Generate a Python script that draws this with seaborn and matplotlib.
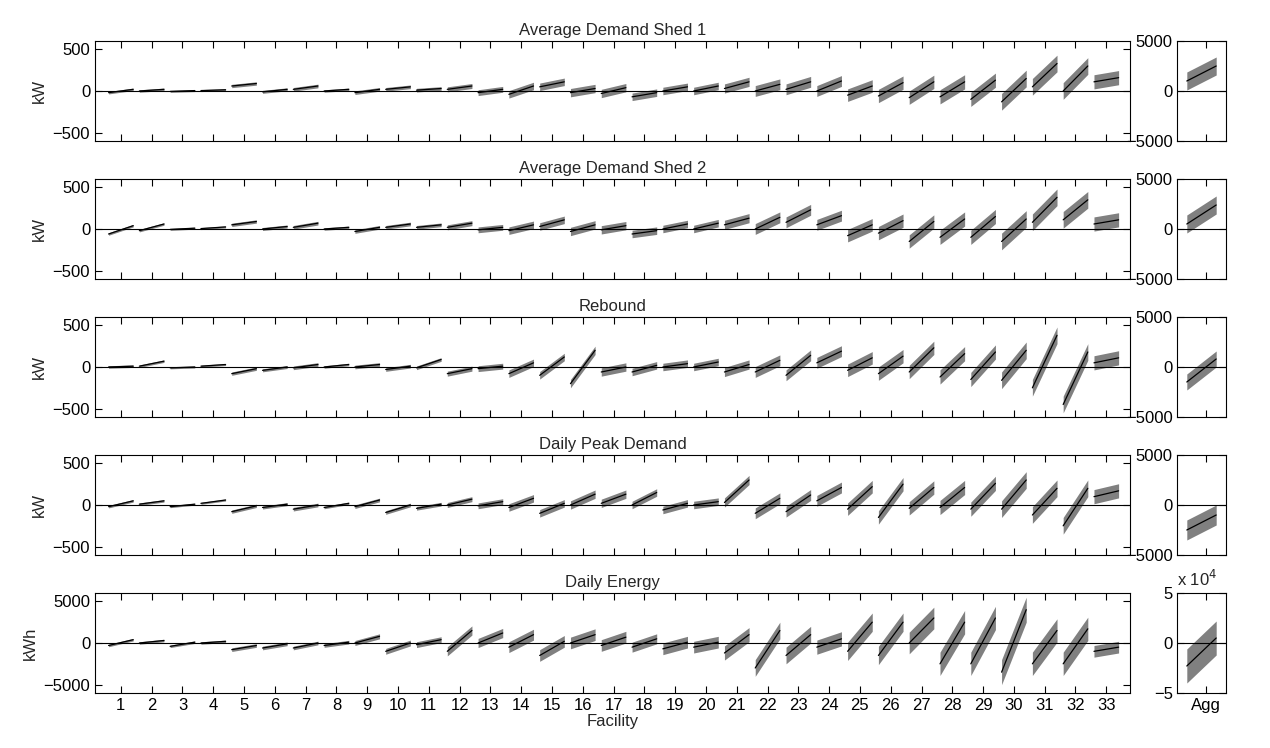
import numpy as np
import pandas as pd
import matplotlib
matplotlib.use("Agg")
import matplotlib.pyplot as plt
import seaborn as sns

facilities = list(range(1, 34))
titles = ["Average Demand Shed 1", "Average Demand Shed 2", "Rebound",
          "Daily Peak Demand", "Daily Energy"]
units = ["kW", "kW", "kW", "kW", "kWh"]

# per facility: (low end, high end) of the sorted daily estimates
shed1 = [(-20, 20), (0, 20), (-5, 5), (5, 15), (60, 90), (-10, 20), (20, 60), (0, 20), (-20, 20),
         (20, 50), (10, 30), (20, 60), (-20, 20), (-40, 60), (50, 110), (-20, 30), (-30, 40),
         (-70, -20), (0, 50), (0, 60), (30, 110), (0, 80), (20, 110), (0, 120), (-50, 60),
         (-60, 100), (-80, 110), (-70, 110), (-100, 130), (-130, 150), (50, 330), (0, 300), (110, 160)]
shed2 = [(-60, 40), (-20, 60), (-5, 10), (5, 25), (50, 90), (0, 30), (20, 70), (0, 20), (-30, 20),
         (20, 60), (20, 50), (20, 70), (-10, 20), (-20, 50), (30, 110), (-30, 50), (-10, 40),
         (-60, -20), (0, 60), (0, 70), (50, 130), (0, 140), (80, 230), (50, 160), (-80, 50),
         (-50, 100), (-150, 90), (-100, 120), (-100, 150), (-150, 120), (80, 380), (110, 350), (60, 110)]
rebound = [(0, 10), (10, 70), (-10, 0), (10, 30), (-80, -20), (-40, 0), (-10, 30), (0, 30), (0, 30),
           (-30, 10), (-10, 90), (-80, -20), (-20, 10), (-80, 50), (-100, 120), (-200, 200), (-60, 0),
           (-60, 20), (0, 40), (0, 60), (-60, 30), (-60, 80), (-100, 140), (50, 190), (-40, 110),
           (-80, 130), (-60, 230), (-120, 160), (-150, 180), (-160, 200), (-250, 380), (-450, 180), (50, 110)]
peak = [(-20, 50), (10, 50), (-20, 10), (20, 60), (-80, -10), (-30, 10), (-50, 0), (-30, 20), (-20, 60),
        (-90, 0), (-40, 10), (0, 70), (-10, 40), (-30, 80), (-100, 20), (0, 130), (20, 130), (0, 150),
        (-60, 20), (0, 40), (30, 300), (-100, 80), (-80, 120), (50, 210), (-50, 220), (-150, 250),
        (-40, 210), (-30, 210), (-50, 260), (-50, 300), (-120, 200), (-250, 200), (100, 170)]
energy = [(-300, 400), (0, 300), (-400, 100), (0, 200), (-800, -300), (-600, -100), (-600, 0),
          (-300, 100), (0, 800), (-1000, 0), (-200, 400), (-1000, 1500), (0, 1200), (-500, 1000),
          (-1500, 200), (0, 1000), (-300, 700), (-500, 500), (-700, 100), (-500, 100), (-1200, 1000),
          (-3000, 1500), (-1500, 1000), (-500, 500), (-1000, 2500), (-1500, 2500), (0, 3000),
          (-2500, 2500), (-2500, 3000), (-3500, 4000), (-2500, 1500), (-2500, 1700), (-1000, -500)]

# half-width of the grey uncertainty band per facility
err_kw = [15, 15, 12, 12, 20, 18, 22, 15, 22, 22, 22, 30, 35, 45, 45, 50, 50, 45, 45, 45, 55, 65,
          65, 65, 75, 80, 80, 85, 85, 100, 100, 100, 85]
err_kwh = [150, 150, 150, 150, 220, 220, 220, 220, 300, 350, 350, 550, 550, 650, 700, 700, 700,
           600, 700, 700, 850, 1000, 1000, 850, 1100, 1100, 1300, 1400, 1400, 1500, 1400, 1400, 700]

agg = [(1000, 2500), (500, 2400), (-1500, 800), (-2500, -1000), (-2.3, 0.5)]
agg_err = [900, 900, 800, 1000, 1.7]

panels = [shed1, shed2, rebound, peak, energy]
errs = [err_kw, err_kw, err_kw, err_kw, err_kwh]
lims = [600, 600, 600, 600, 6000]
ticks = [[-500, 0, 500]] * 4 + [[-5000, 0, 5000]]

sns.set_style("white")
plt.rcParams["font.family"] = ["Liberation Sans", "DejaVu Sans"]
plt.rcParams["font.size"] = 12

fig = plt.figure(figsize=(12.7, 7.48), dpi=100)
W, H = 1270, 748
tops = [41, 179, 317, 455, 593]
ph = 100
grey = "#808080"


def style(ax):
    ax.set_facecolor("none")
    ax.tick_params(direction="in", top=True, bottom=True, left=True, right=True,
                   labelleft=True, labelright=False, length=5, width=0.8, colors="black")
    for s in ax.spines.values():
        s.set_color("black")
        s.set_linewidth(0.8)


for k in range(5):
    ax = fig.add_axes([95 / W, 1 - (tops[k] + ph) / H, 1035 / W, ph / H])
    rows = []
    for f, (lo, hi) in zip(facilities, panels[k]):
        rows.append({"facility": f, "x": f - 0.4, "y": lo})
        rows.append({"facility": f, "x": f + 0.4, "y": hi})
    df = pd.DataFrame(rows)
    for f, e in zip(facilities, errs[k]):
        d = df[df.facility == f]
        ax.fill_between(d.x, d.y - e, d.y + e, color=grey, lw=0)
    sns.lineplot(data=df, x="x", y="y", units="facility", estimator=None,
                 color="black", lw=0.9, ax=ax)
    ax.axhline(0, color="black", lw=0.8)
    ax.set_xlim(0.16, 33.77)
    ax.set_ylim(-lims[k], lims[k])
    ax.set_yticks(ticks[k])
    ax.set_xticks(facilities)
    ax.set_ylabel(units[k])
    ax.set_title(titles[k], fontsize=12, pad=4)
    if k == 4:
        ax.set_xlabel("Facility", labelpad=1)
    else:
        ax.set_xticklabels([])
        ax.set_xlabel("")
    style(ax)

    # aggregate panel
    axa = fig.add_axes([1177 / W, 1 - (tops[k] + ph) / H, 49 / W, ph / H])
    lo, hi = agg[k]
    e = agg_err[k]
    da = pd.DataFrame({"x": [0.2, 0.8], "y": [lo, hi]})
    axa.fill_between(da.x, da.y - e, da.y + e, color=grey, lw=0)
    sns.lineplot(data=da, x="x", y="y", color="black", lw=0.9, ax=axa)
    axa.axhline(0, color="black", lw=0.8)
    axa.set_xlim(0, 1)
    if k == 4:
        axa.set_ylim(-5, 5)
        axa.set_yticks([-5, 0, 5])
        axa.text(0, 1.04, "x 10$^4$", transform=axa.transAxes, fontsize=12, ha="left", va="bottom")
        axa.set_xticks([0.6])
        axa.set_xticklabels(["Agg"])
    else:
        axa.set_ylim(-5000, 5000)
        axa.set_yticks([-5000, 0, 5000])
        axa.set_yticklabels(["\u22125000", "0", "5000"])
        axa.set_xticks([0.6])
        axa.set_xticklabels([])
    axa.set_xlabel("")
    axa.set_ylabel("")
    style(axa)
    axa.tick_params(axis="y", pad=3)

fig.savefig("out.png", dpi=100)
